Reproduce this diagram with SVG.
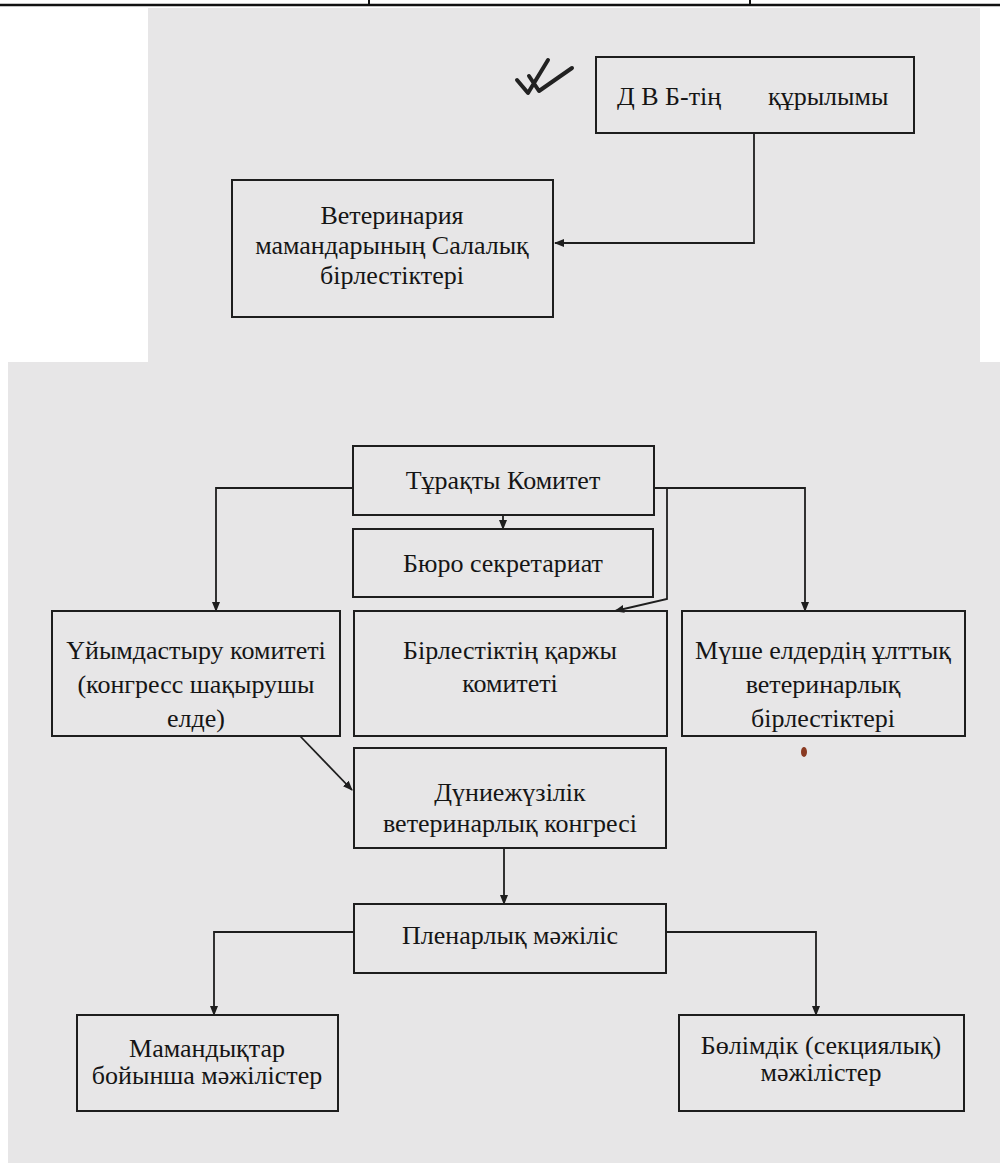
<svg xmlns="http://www.w3.org/2000/svg" width="1000" height="1163" viewBox="0 0 1000 1163">
<style>
.paper{fill:#e7e6e7;stroke:none}
.box{fill:none;stroke:#1e1e1e;stroke-width:2}
.t{font-family:"Liberation Serif","Times New Roman",serif;font-size:26px;fill:#151515;text-anchor:middle}
.c{fill:none;stroke:#1e1e1e;stroke-width:1.8}
</style>
<defs>
<marker id="ah" markerWidth="10" markerHeight="10" refX="9" refY="5" orient="auto" markerUnits="userSpaceOnUse">
<path d="M0,1 L10,5 L0,9 Z" fill="#1e1e1e"/>
</marker>
</defs>
<rect x="0" y="0" width="1000" height="1163" fill="#ffffff"/>
<rect class="paper" x="148" y="8" width="832" height="356"/>
<rect class="paper" x="8" y="362" width="992" height="801"/>
<g id="table-edge">
<line x1="0" y1="5" x2="1000" y2="5" stroke="#111" stroke-width="2.5"/>
<line x1="369" y1="0" x2="369" y2="5" stroke="#111" stroke-width="2"/>
<line x1="750" y1="0" x2="750" y2="5" stroke="#111" stroke-width="2"/>
</g>
<path id="checkmark" d="M517,80 L528,93 L548,60 M529,76 L539,91 L572,68" fill="none" stroke="#222" stroke-width="4" stroke-linecap="round" stroke-linejoin="round"/>
<ellipse cx="804" cy="752" rx="3" ry="5" fill="#8a3a22"/>
<g id="connectors">
<path class="c" d="M754,133 V243 H555" marker-end="url(#ah)"/>
<path class="c" d="M353,488 H216 V611" marker-end="url(#ah)"/>
<path class="c" d="M654,488 H805 V611" marker-end="url(#ah)"/>
<path class="c" d="M503,515 V529" marker-end="url(#ah)"/>
<path class="c" d="M667,488 V599 L615,611" marker-end="url(#ah)"/>
<path class="c" d="M300,736 L352,790" marker-end="url(#ah)"/>
<path class="c" d="M504,848 V904" marker-end="url(#ah)"/>
<path class="c" d="M354,932 H214 V1015" marker-end="url(#ah)"/>
<path class="c" d="M666,932 H816 V1015" marker-end="url(#ah)"/>
</g>
<g id="n-dvb">
<rect class="box" x="596" y="57" width="318" height="76"/>
<text class="t" style="text-anchor:start" y="105"><tspan x="617">Д В Б-тің</tspan><tspan x="768">құрылымы</tspan></text>
</g>
<g id="n-vet">
<rect class="box" x="232" y="180" width="321" height="137"/>
<text class="t" x="392" y="224">Ветеринария</text>
<text class="t" x="392" y="254">мамандарының Салалық</text>
<text class="t" x="392" y="284">бірлестіктері</text>
</g>
<g id="n-turakty">
<rect class="box" x="353" y="446" width="301" height="69"/>
<text class="t" x="503" y="489">Тұрақты Комитет</text>
</g>
<g id="n-buro">
<rect class="box" x="353" y="529" width="300" height="68"/>
<text class="t" x="503" y="572">Бюро секретариат</text>
</g>
<g id="n-uiym">
<rect class="box" x="52" y="611" width="288" height="125"/>
<text class="t" x="196" y="659">Үйымдастыру комитеті</text>
<text class="t" x="196" y="693">(конгресс шақырушы</text>
<text class="t" x="196" y="727">елде)</text>
</g>
<g id="n-karzhy">
<rect class="box" x="354" y="611" width="313" height="125"/>
<text class="t" x="510" y="659">Бірлестіктің қаржы</text>
<text class="t" x="510" y="692">комитеті</text>
</g>
<g id="n-mushe">
<rect class="box" x="682" y="611" width="283" height="125"/>
<text class="t" x="823" y="659">Мүше елдердің ұлттық</text>
<text class="t" x="823" y="693">ветеринарлық</text>
<text class="t" x="823" y="727">бірлестіктері</text>
</g>
<g id="n-dunie">
<rect class="box" x="354" y="748" width="312" height="100"/>
<text class="t" x="510" y="801">Дүниежүзілік</text>
<text class="t" x="510" y="832">ветеринарлық конгресі</text>
</g>
<g id="n-plenar">
<rect class="box" x="354" y="904" width="312" height="69"/>
<text class="t" x="510" y="944">Пленарлық мәжіліс</text>
</g>
<g id="n-mamand">
<rect class="box" x="77" y="1015" width="261" height="96"/>
<text class="t" x="207" y="1057">Мамандықтар</text>
<text class="t" x="207" y="1084">бойынша мәжілістер</text>
</g>
<g id="n-bolim">
<rect class="box" x="679" y="1015" width="285" height="96"/>
<text class="t" x="821" y="1054">Бөлімдік (секциялық)</text>
<text class="t" x="821" y="1081">мәжілістер</text>
</g>
</svg>
